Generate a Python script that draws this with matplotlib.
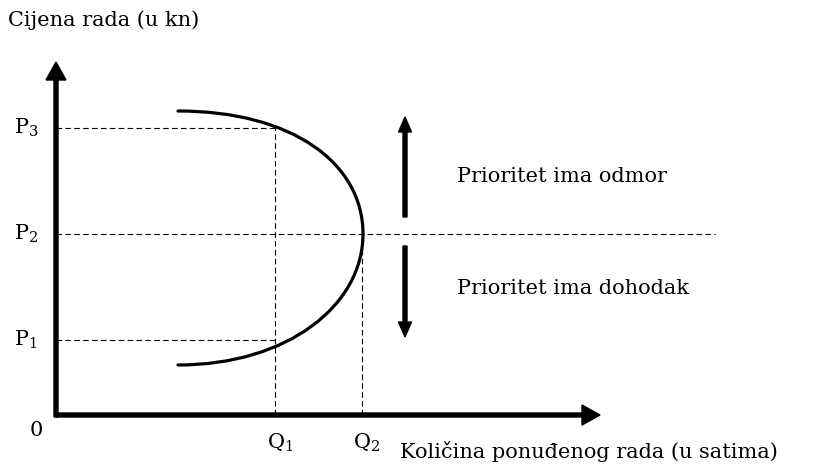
import matplotlib
matplotlib.use("Agg")
import matplotlib.pyplot as plt
from matplotlib.path import Path
from matplotlib.patches import PathPatch

# schematic units (origin of the diagram at 0,0)
q_vals = [219, 306]          # Q1, Q2
p_vals = [75, 181, 287]      # P1, P2, P3
q_labels = ["Q$_1$", "Q$_2$"]
p_labels = ["P$_1$", "P$_2$", "P$_3$"]

# backward-bending labour supply curve: two cubic bezier pieces
# (end at top, vertex at P2, end at bottom) with their control points
curve_x = [122, 236, 307, 307, 307, 232, 122]
curve_y = [304, 304, 252, 181, 110, 50, 50]

x_axis_len = 544
y_axis_len = 353
p2_line_end = 659
arrow_x = 349
up_arrow = (198, 298)
down_arrow = (169, 78)

plt.rcParams["font.family"] = ["DejaVu Serif"]
plt.rcParams["mathtext.default"] = "regular"

fig = plt.figure(figsize=(8.2, 4.66), dpi=100)
ax = fig.add_axes([0, 0, 1, 1])
ax.set_xlim(-56, 764)
ax.set_ylim(-51, 415)
ax.axis("off")

dash = dict(color="black", lw=0.8, ls=(0, (5, 3)))

# dashed guide lines
ax.plot([0, q_vals[0]], [p_vals[2], p_vals[2]], **dash)
ax.plot([0, q_vals[0]], [p_vals[0], p_vals[0]], **dash)
ax.plot([0, p2_line_end], [p_vals[1], p_vals[1]], **dash)
ax.plot([q_vals[0], q_vals[0]], [0, p_vals[2]], **dash)
ax.plot([q_vals[1], q_vals[1]], [0, p_vals[1]], **dash)

# supply curve
codes = [Path.MOVETO] + [Path.CURVE4] * 6
path = Path(list(zip(curve_x, curve_y)), codes)
ax.add_patch(PathPatch(path, facecolor="none", edgecolor="black", lw=2.3,
                       capstyle="round"))

# axes with arrow heads
ax.arrow(0, 0, x_axis_len, 0, width=4, head_width=20, head_length=18,
         length_includes_head=True, color="black")
ax.arrow(0, -2, 0, y_axis_len + 2, width=4, head_width=20, head_length=18,
         length_includes_head=True, color="black")

# priority arrows
ax.arrow(arrow_x, up_arrow[0], 0, up_arrow[1] - up_arrow[0], width=4,
         head_width=13, head_length=15, length_includes_head=True, color="black")
ax.arrow(arrow_x, down_arrow[0], 0, down_arrow[1] - down_arrow[0], width=4,
         head_width=13, head_length=15, length_includes_head=True, color="black")

fs = 15
for p, lab in zip(p_vals, p_labels):
    ax.text(-42, p, lab, fontsize=fs, ha="left", va="center")
for q, lab in zip(q_vals, q_labels):
    ax.text(q + 5, -28, lab, fontsize=fs, ha="center", va="center")
ax.text(-20, -15, "0", fontsize=fs, ha="center", va="center")

ax.text(-48, 395, "Cijena rada (u kn)", fontsize=fs, ha="left", va="center")
ax.text(344, -37, "Količina ponuđenog rada (u satima)", fontsize=fs,
        ha="left", va="center")
ax.text(401, 238, "Prioritet ima odmor", fontsize=fs, ha="left", va="center")
ax.text(401, 126, "Prioritet ima dohodak", fontsize=fs, ha="left", va="center")

fig.savefig("out.png", dpi=100)
